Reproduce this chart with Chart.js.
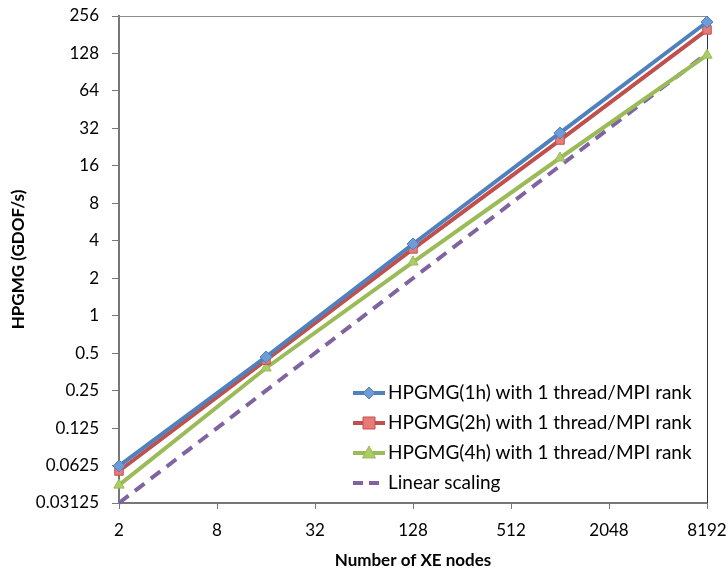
<!DOCTYPE html>
<html>
<head>
<meta charset="utf-8">
<script src="https://cdn.jsdelivr.net/npm/chart.js@4/dist/chart.umd.min.js"></script>
<style>
html, body { margin: 0; padding: 0; background: #fff; }
#wrap { width: 728px; height: 568px; }
</style>
</head>
<body>
<div id="wrap"><canvas id="grafico" width="728" height="568"></canvas></div>
<script>
var nodes = [2, 16, 128, 1024, 8192];
var hpgmg1h = [0.062, 0.466, 3.77, 29.4, 229];
var hpgmg2h = [0.0565, 0.44, 3.44, 25.8, 198];
var hpgmg4h = [0.0435, 0.38, 2.70, 18.5, 124];
var linear = [0.03125, 0.25, 2, 16, 128];
var xTicks = [2, 8, 32, 128, 512, 2048, 8192];
var yTicks = [0.03125, 0.0625, 0.125, 0.25, 0.5, 1, 2, 4, 8, 16, 32, 64, 128, 256];

var fonte = 'Lato, "Open Sans", sans-serif';

function pontos(valores) {
    return nodes.map(function (n, i) { return { x: n, y: valores[i] }; });
}

function desenharMarcador(ctx, estilo, x, y, preenchimento, borda) {
    ctx.save();
    ctx.fillStyle = preenchimento;
    ctx.strokeStyle = borda;
    ctx.lineWidth = 1;
    ctx.beginPath();
    if (estilo === 'rectRot') {
        ctx.moveTo(x, y - 6); ctx.lineTo(x + 6, y); ctx.lineTo(x, y + 6); ctx.lineTo(x - 6, y);
    } else if (estilo === 'rect') {
        ctx.rect(x - 6, y - 6, 12, 12);
    } else if (estilo === 'triangle') {
        ctx.moveTo(x, y - 7); ctx.lineTo(x + 6.5, y + 5); ctx.lineTo(x - 6.5, y + 5);
    }
    if (estilo) {
        ctx.closePath();
        ctx.fill();
        ctx.stroke();
    }
    ctx.restore();
}

// legenda dentro da área do gráfico, canto inferior direito
var legendaInterna = {
    id: 'legendaInterna',
    afterDraw: function (chart) {
        var ctx = chart.ctx;
        var x0 = 353, y0 = 393, passo = 30;
        chart.data.datasets.forEach(function (ds, i) {
            var y = y0 + i * passo;
            ctx.save();
            ctx.strokeStyle = ds.borderColor;
            ctx.lineWidth = 4;
            ctx.setLineDash(ds.borderDash ? [10, 6] : []);
            ctx.beginPath();
            ctx.moveTo(x0, y);
            ctx.lineTo(x0 + 32, y);
            ctx.stroke();
            ctx.restore();
            if (ds.pointStyle) {
                desenharMarcador(ctx, ds.pointStyle, x0 + 16, y, ds.pointBackgroundColor, ds.pointBorderColor);
            }
            ctx.save();
            ctx.fillStyle = '#000';
            ctx.font = '19px ' + fonte;
            ctx.textBaseline = 'middle';
            ctx.fillText(ds.label, x0 + 35, y);
            ctx.restore();
        });
    }
};

var moldura = {
    id: 'moldura',
    beforeDatasetsDraw: function (chart) {
        var a = chart.chartArea, ctx = chart.ctx;
        ctx.save();
        ctx.lineWidth = 1;
        ctx.strokeStyle = '#8c8c8c';
        ctx.beginPath();
        ctx.moveTo(a.left, a.top + 0.5);
        ctx.lineTo(a.right, a.top + 0.5);
        ctx.stroke();
        ctx.strokeStyle = '#333';
        ctx.beginPath();
        ctx.moveTo(a.right + 0.5, a.top);
        ctx.lineTo(a.right + 0.5, a.bottom);
        ctx.stroke();
        ctx.restore();
    }
};

function serie(rotulo, valores, cor, estilo, preenchimento) {
    return {
        label: rotulo,
        data: pontos(valores),
        borderColor: cor,
        borderWidth: 4,
        pointStyle: estilo,
        pointRadius: 6,
        pointBackgroundColor: preenchimento,
        pointBorderColor: cor,
        pointBorderWidth: 1,
        clip: false,
        tension: 0
    };
}

var datasets = [
    serie('HPGMG(1h) with 1 thread/MPI rank', hpgmg1h, '#4F81BD', 'rectRot', '#6f9bd6'),
    serie('HPGMG(2h) with 1 thread/MPI rank', hpgmg2h, '#C0504D', 'rect', '#e87a78'),
    serie('HPGMG(4h) with 1 thread/MPI rank', hpgmg4h, '#9BBB59', 'triangle', '#aacd68'),
    {
        label: 'Linear scaling',
        data: pontos(linear),
        borderColor: '#8064A2',
        borderWidth: 4,
        borderDash: [12, 8],
        pointRadius: 0,
        pointStyle: false,
        clip: false,
        tension: 0
    }
];

var ctx = document.getElementById('grafico');
var grafico = new Chart(ctx, {
    type: 'line',
    data: { datasets: datasets },
    plugins: [moldura, legendaInterna],
    options: {
        responsive: false,
        animation: false,
        layout: { autoPadding: false, padding: { left: 8, right: 21, top: 16, bottom: 0 } },
        plugins: {
            legend: { display: false },
            tooltip: { enabled: false }
        },
        scales: {
            x: {
                type: 'logarithmic',
                min: 2,
                max: 8192,
                afterBuildTicks: function (scale) {
                    scale.ticks = xTicks.map(function (v) { return { value: v }; });
                },
                afterFit: function (scale) {
                    scale.height = 65;
                    scale.paddingLeft = 0;
                    scale.paddingRight = 0;
                },
                grid: { display: true, drawOnChartArea: false, drawTicks: true, tickLength: 6, tickColor: '#777' },
                border: { display: true, color: '#777', width: 2 },
                ticks: {
                    color: '#000',
                    font: { family: fonte, size: 17 },
                    padding: 11,
                    maxRotation: 0,
                    autoSkip: false,
                    callback: function (v) { return String(v); }
                },
                title: {
                    display: true,
                    text: 'Number of XE nodes',
                    color: '#000',
                    font: { family: fonte, size: 17, weight: 'bold' },
                    padding: { top: 0, bottom: -3 }
                }
            },
            y: {
                type: 'logarithmic',
                min: 0.03125,
                max: 256,
                afterBuildTicks: function (scale) {
                    scale.ticks = yTicks.map(function (v) { return { value: v }; });
                },
                afterFit: function (scale) {
                    scale.width = 111;
                    scale.paddingTop = 0;
                    scale.paddingBottom = 0;
                },
                grid: { display: true, drawOnChartArea: false, drawTicks: true, tickLength: 7, tickColor: '#777' },
                border: { display: true, color: '#777', width: 2 },
                ticks: {
                    color: '#000',
                    font: { family: fonte, size: 17 },
                    padding: 13,
                    autoSkip: false,
                    callback: function (v) { return String(v); }
                },
                title: {
                    display: true,
                    text: 'HPGMG (GDOF/s)',
                    color: '#000',
                    font: { family: fonte, size: 17, weight: 'bold' },
                    padding: { top: 0, bottom: 0 }
                }
            }
        }
    }
});
</script>
</body>
</html>
